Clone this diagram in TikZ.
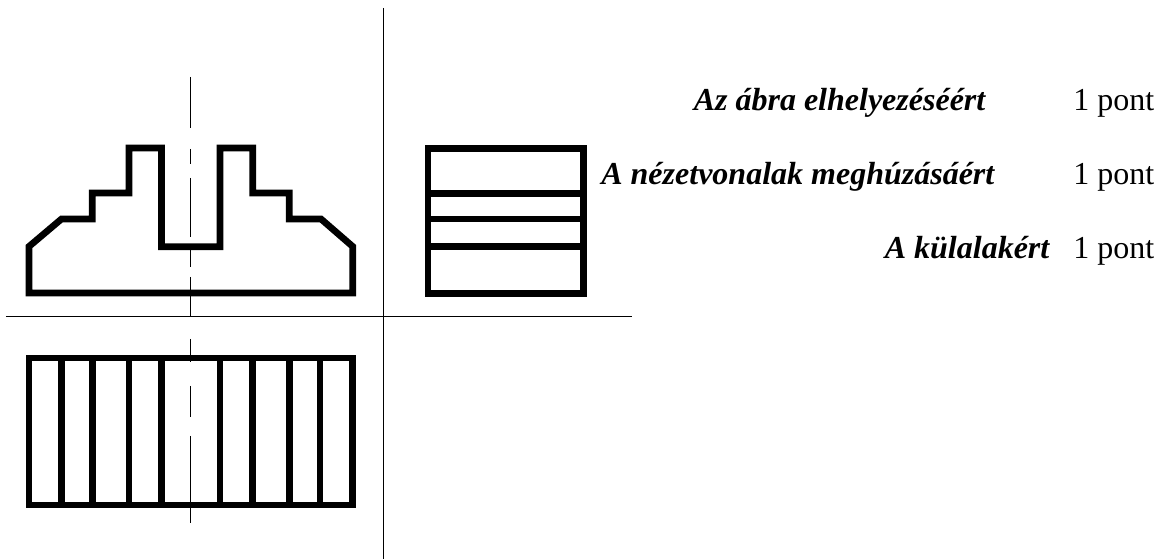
\documentclass[tikz,border=0pt]{standalone}
\usepackage{fontspec}
\setmainfont{Liberation Serif}
\tikzset{
  thick outline/.style={line width=1.9pt, line join=miter, line cap=rect},
  thin axis/.style={line width=0.28pt, black},
  label text/.style={inner sep=0pt, font=\fontsize{9.1pt}{11pt}\selectfont\bfseries\itshape, anchor=base east},
  score text/.style={inner sep=0pt, font=\fontsize{9.1pt}{11pt}\selectfont, anchor=base east},
}
\begin{document}
\begin{tikzpicture}[x=0.01cm,y=-0.01cm]
\useasboundingbox (0,0) rectangle (1169,559);
% axes
\coordinate (vt) at (383,8); \coordinate (vb) at (383,559);
\coordinate (hl) at (6,316.3); \coordinate (hr) at (631.7,316.3);
\draw[thin axis] (vt) -- (vb);
\draw[thin axis] (hl) -- (hr);
% centre line
\draw[thin axis] (190.7,77) -- (190.7,128);
\draw[thin axis] (190.7,149) -- (190.7,164);
\draw[thin axis] (190.7,178) -- (190.7,237);
\draw[thin axis] (190.7,250) -- (190.7,267);
\draw[thin axis] (190.7,277) -- (190.7,316.3);
\draw[thin axis] (190.7,339) -- (190.7,362);
\draw[thin axis] (190.7,386) -- (190.7,417);
\draw[thin axis] (190.7,436) -- (190.7,523);
% front view
\draw[thick outline] (29,293) -- (29,246.5) -- (61.5,219) -- (92.3,219) -- (92.3,193) -- (129,193) -- (129,148)
 -- (161.5,148) -- (161.5,246.7) -- (220,246.7) -- (220,148) -- (252.7,148) -- (252.7,193) -- (289.3,193)
 -- (289.3,219) -- (321,219) -- (352.7,246.5) -- (352.7,293) -- cycle;
% top view
\draw[thick outline] (29,358) rectangle (352.7,505);
\foreach \x in {61.3,92.3,129,161.3,220,252.7,289.3,320}
  \draw[thick outline, line cap=butt] (\x,358) -- (\x,505);
% side view
\draw[thick outline] (428,148.3) rectangle (583.7,293.3);
\foreach \y in {193.3,219,246.7}
  \draw[thick outline, line cap=butt] (428,\y) -- (583.7,\y);
% text
\node[label text] (t1) at (986,111) {Az ábra elhelyezéséért};
\node[label text] (t2) at (995,185) {A nézetvonalak meghúzásáért};
\node[label text] (t3) at (1050,259) {A külalakért};
\node[score text] (p1) at (1155,111) {1 pont};
\node[score text] (p2) at (1155,185) {1 pont};
\node[score text] (p3) at (1155,259) {1 pont};
\end{tikzpicture}
\end{document}
